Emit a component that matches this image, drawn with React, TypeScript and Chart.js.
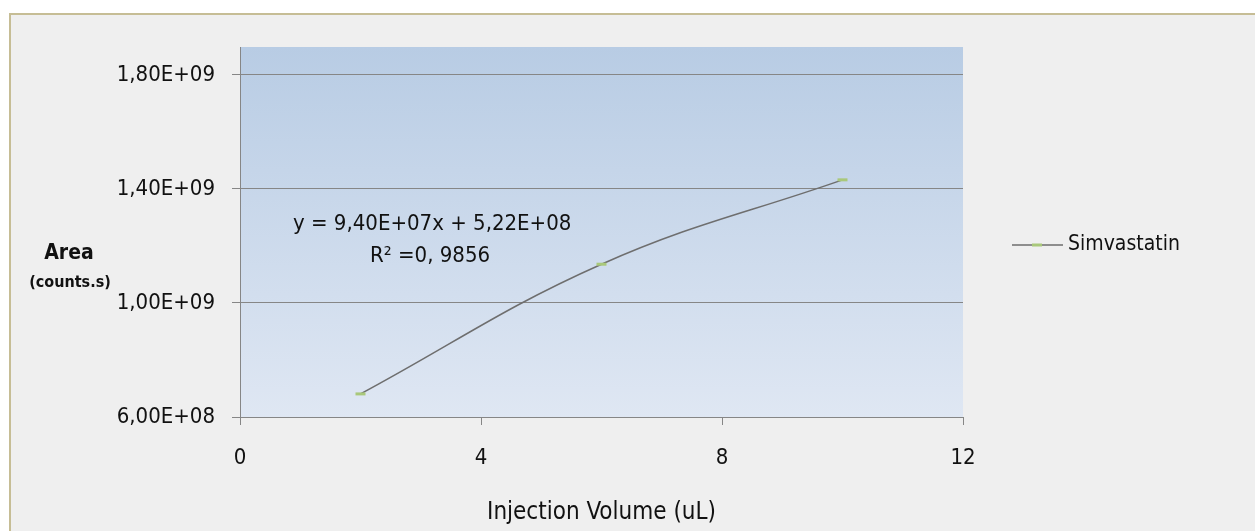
import React, { useEffect, useRef } from "react";
import { Chart, registerables } from "chart.js";

Chart.register(...registerables);

const volumes = [2, 6, 10];
const areas = [6.81e8, 1.136e9, 1.432e9];
const yTicks = [6e8, 1e9, 1.4e9, 1.8e9];
const xTicks = [0, 4, 8, 12];
const seriesName = "Simvastatin";
const equationText = "y = 9,40E+07x + 5,22E+08";
const r2Text = "R\u00B2 =0, 9856";
const xTitle = "Injection Volume (uL)";
const yTitle = "Area";
const yUnit = "(counts.s)";

const FONT = '"Liberation Sans Narrow", "DejaVu Sans Condensed", "Liberation Sans", sans-serif';
const LINE_COLOR = "#6e6e6e";
const MARK_COLOR = "#a9c87a";

function fmtE(v: number): string {
  const exp = Math.floor(Math.log10(v));
  const mant = v / Math.pow(10, exp);
  return mant.toFixed(2).replace(".", ",") + "E+" + String(exp).padStart(2, "0");
}

export default function App() {
  const ref = useRef<HTMLCanvasElement | null>(null);
  useEffect(() => {
    if (!ref.current) return;
    const decor = {
      id: "decor",
      beforeDraw(chart: any) {
        const ctx = chart.ctx;
        const a = chart.chartArea;
        ctx.save();
        ctx.fillStyle = "#ffffff";
        ctx.fillRect(0, 0, chart.width, chart.height);
        ctx.fillStyle = "#efefef";
        ctx.fillRect(10, 14, chart.width, chart.height);
        ctx.strokeStyle = "#c6bd95";
        ctx.lineWidth = 2;
        ctx.strokeRect(10, 14, chart.width + 20, chart.height + 20);
        const g = ctx.createLinearGradient(0, a.top, 0, a.bottom);
        g.addColorStop(0, "#b8cce4");
        g.addColorStop(1, "#dfe7f3");
        ctx.fillStyle = g;
        ctx.fillRect(a.left, a.top, a.right - a.left, a.bottom - a.top);
        ctx.restore();
      },
      afterDraw(chart: any) {
        const ctx = chart.ctx;
        const a = chart.chartArea;
        ctx.save();
        ctx.fillStyle = "#111111";
        ctx.textBaseline = "middle";
        ctx.textAlign = "center";
        ctx.font = "24px " + FONT;
        ctx.fillText(xTitle, (a.left + a.right) / 2, 513);
        ctx.font = "bold 21px " + FONT;
        ctx.fillText(yTitle, 69, 254);
        ctx.font = "bold 16px " + FONT;
        ctx.fillText(yUnit, 70, 283);
        ctx.font = "22px " + FONT;
        ctx.textAlign = "left";
        ctx.fillText(equationText, 293, 224);
        ctx.fillText(r2Text, 370, 256);
        // legend
        ctx.strokeStyle = LINE_COLOR;
        ctx.lineWidth = 1.5;
        ctx.beginPath();
        ctx.moveTo(1012, 245);
        ctx.lineTo(1063, 245);
        ctx.stroke();
        ctx.strokeStyle = MARK_COLOR;
        ctx.lineWidth = 3;
        ctx.beginPath();
        ctx.moveTo(1032, 245);
        ctx.lineTo(1042, 245);
        ctx.stroke();
        ctx.font = "21px " + FONT;
        ctx.fillText(seriesName, 1068, 245);
        ctx.restore();
      },
    };
    const chart = new Chart(ref.current, {
      type: "line",
      data: {
        datasets: [
          {
            label: seriesName,
            data: volumes.map((x, i) => ({ x, y: areas[i] })),
            borderColor: LINE_COLOR,
            borderWidth: 1.5,
            tension: 0.4,
            pointStyle: "line",
            pointRadius: 5,
            pointBorderColor: MARK_COLOR,
            pointBackgroundColor: MARK_COLOR,
            pointBorderWidth: 3,
            fill: false,
          },
        ],
      },
      options: {
        responsive: false,
        animation: false,
        devicePixelRatio: 1,
        layout: { padding: { left: 0, top: 47, right: 292, bottom: 0 } },
        plugins: { legend: { display: false }, tooltip: { enabled: false } },
        scales: {
          x: {
            type: "linear",
            min: 0,
            max: 12,
            afterBuildTicks: (s: any) => {
              s.ticks = xTicks.map((v) => ({ value: v }));
            },
            afterFit: (s: any) => {
              s.height = 114;
            },
            grid: { drawOnChartArea: false, drawTicks: true, tickLength: 8, color: "#868686" },
            border: { display: true, color: "#868686", width: 1 },
            ticks: {
              padding: 20,
              color: "#111111",
              font: { family: FONT, size: 22 },
              callback: (v: any) => String(v),
              maxRotation: 0,
            },
          },
          y: {
            type: "linear",
            min: 6e8,
            max: 1.898e9,
            afterBuildTicks: (s: any) => {
              s.ticks = yTicks.map((v) => ({ value: v }));
            },
            afterFit: (s: any) => {
              s.width = 240;
            },
            grid: { drawOnChartArea: true, drawTicks: true, tickLength: 8, color: "#868686" },
            border: { display: true, color: "#868686", width: 1 },
            ticks: {
              padding: 17,
              color: "#111111",
              font: { family: FONT, size: 22 },
              callback: (v: any) => fmtE(Number(v)),
            },
          },
        },
      },
      plugins: [decor],
    } as any);
    return () => chart.destroy();
  }, []);
  return (
    <div style={{ position: "fixed", left: 0, top: 0, width: 1255, height: 531 }}>
      <canvas ref={ref} width={1255} height={531} style={{ display: "block", width: 1255, height: 531 }} />
    </div>
  );
}
